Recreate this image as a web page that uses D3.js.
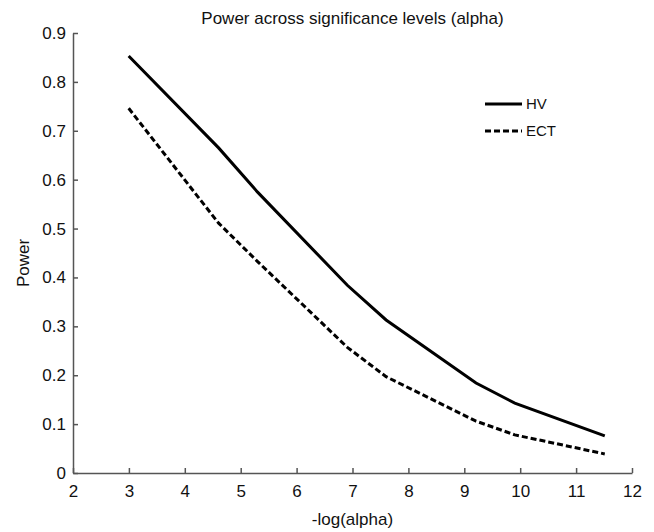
<!DOCTYPE html>
<html>
<head>
<meta charset="utf-8">
<script src="https://cdn.jsdelivr.net/npm/d3@7"></script>
<style>
  body { margin: 0; background: #fff; }
  svg text { font-family: "Liberation Sans", Arial, sans-serif; fill: #111; }
</style>
</head>
<body>
<div id="chart"></div>
<script>
// -log(alpha) for alpha = .05, .01, .005, .001, .0005, .0001, .00005, .00001
var negLogAlpha = [2.996, 4.605, 5.298, 6.908, 7.601, 9.210, 9.903, 11.513];
var powerHV  = [0.853, 0.665, 0.575, 0.384, 0.313, 0.184, 0.143, 0.076];
var powerECT = [0.746, 0.511, 0.433, 0.257, 0.197, 0.106, 0.078, 0.039];
var xTicks = [2, 3, 4, 5, 6, 7, 8, 9, 10, 11, 12];
var yTicks = [0, 0.1, 0.2, 0.3, 0.4, 0.5, 0.6, 0.7, 0.8, 0.9];

var options = {
  width: 654, height: 532,
  margin: {top: 33, right: 22, bottom: 59, left: 73}
};
var w = options.width - options.margin.left - options.margin.right,
    h = options.height - options.margin.top - options.margin.bottom;

var svg = d3.select("#chart").append("svg")
  .attr("width", options.width)
  .attr("height", options.height);

var g = svg.append("g")
  .attr("transform", "translate(" + options.margin.left + "," + options.margin.top + ")");

var x = d3.scaleLinear().domain([2, 12]).range([0, w]);
var y = d3.scaleLinear().domain([0, 0.9]).range([h, 0]);

// axes, ticks pointing inward like matlab
var xAxis = g.append("g")
  .attr("transform", "translate(0," + h + ")")
  .call(d3.axisBottom(x).tickValues(xTicks).tickSizeInner(-5).tickSizeOuter(0).tickPadding(12).tickFormat(d3.format("d")));
var yAxis = g.append("g")
  .call(d3.axisLeft(y).tickValues(yTicks).tickSizeInner(-5).tickSizeOuter(0).tickPadding(7)
    .tickFormat(function(d){ return d === 0 ? "0" : d3.format(".1f")(d); }));

[xAxis, yAxis].forEach(function(a){
  a.select(".domain").attr("stroke", "#555").attr("stroke-width", 1.5);
  a.selectAll(".tick line").attr("stroke", "#555").attr("stroke-width", 1.5);
  a.selectAll(".tick text").style("font-size", "17px").attr("fill", "#111");
});

// series
var series = [
  {name: "HV", values: powerHV, dash: null},
  {name: "ECT", values: powerECT, dash: "6,3"}
];

var line = d3.line()
  .x(function(d){ return x(d[0]); })
  .y(function(d){ return y(d[1]); });

g.selectAll(".series")
  .data(series).enter().append("path")
    .attr("class", "series")
    .attr("fill", "none")
    .attr("stroke", "#000")
    .attr("stroke-width", 3)
    .attr("stroke-dasharray", function(d){ return d.dash; })
    .attr("d", function(d){
      return line(d.values.map(function(v, i){ return [negLogAlpha[i], v]; }));
    });

// legend
var legend = g.selectAll(".legend")
  .data(series).enter().append("g")
    .attr("class", "legend")
    .attr("transform", function(d, i){ return "translate(" + (485 - options.margin.left) + "," + (104 - options.margin.top + i * 27) + ")"; });

legend.append("line")
  .attr("x1", 0).attr("x2", 37)
  .attr("stroke", "#000").attr("stroke-width", 3)
  .attr("stroke-dasharray", function(d){ return d.dash; });

legend.append("text")
  .attr("x", 41).attr("dy", "0.35em")
  .style("font-size", "15px")
  .text(function(d){ return d.name; });

// titles
svg.append("text")
  .attr("x", options.margin.left + w / 2).attr("y", 24)
  .attr("text-anchor", "middle")
  .style("font-size", "17px")
  .text("Power across significance levels (alpha)");

svg.append("text")
  .attr("x", options.margin.left + w / 2).attr("y", 525)
  .attr("text-anchor", "middle")
  .style("font-size", "17px")
  .text("-log(alpha)");

svg.append("text")
  .attr("transform", "translate(29," + (options.margin.top + h / 2 + 10) + ") rotate(-90)")
  .attr("text-anchor", "middle")
  .style("font-size", "17px")
  .text("Power");
</script>
</body>
</html>
